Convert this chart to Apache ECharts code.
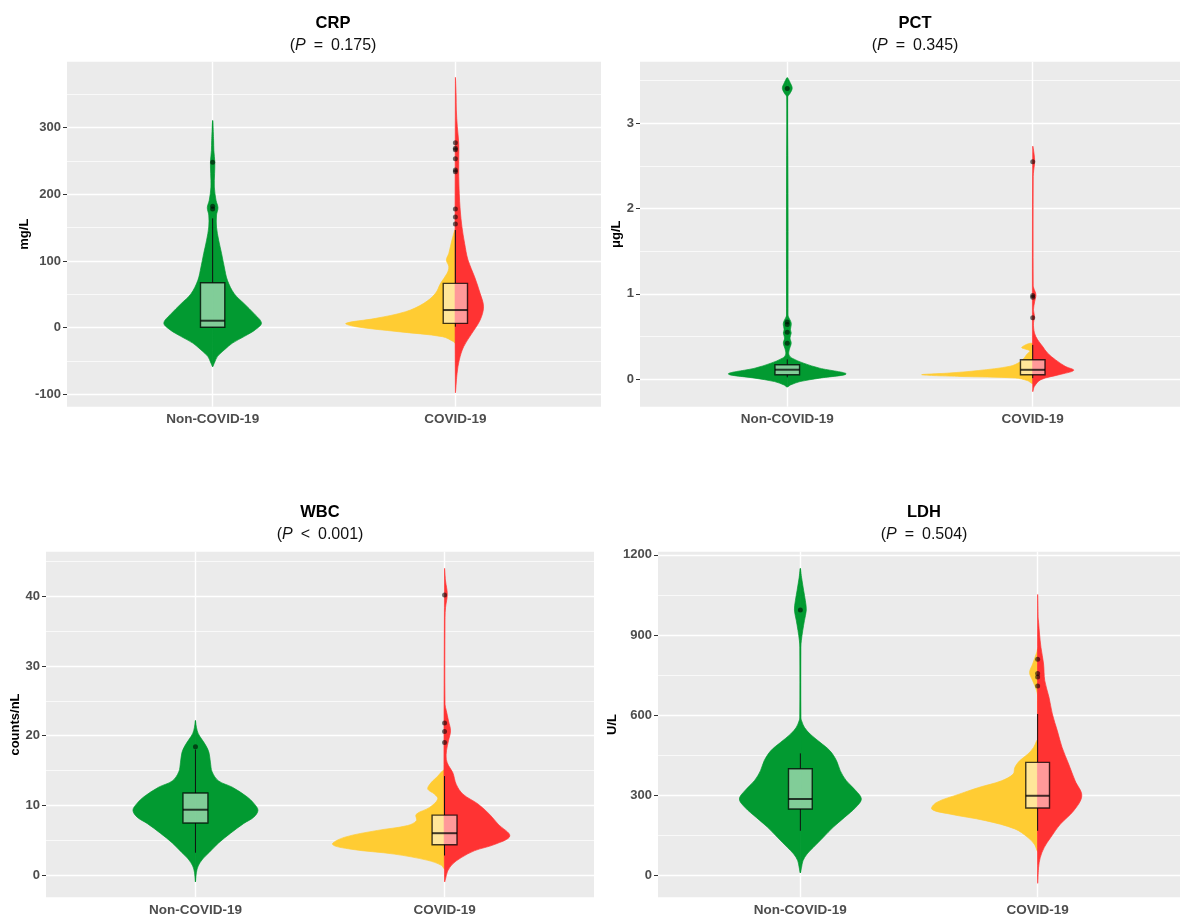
<!DOCTYPE html>
<html>
<head>
<meta charset="utf-8">
<script src="https://cdn.jsdelivr.net/npm/echarts@6/dist/echarts.min.js"></script>
<style>
    html, body { margin: 0; background: #fff; }
    #main { width: 1180px; height: 918px; }
</style>
</head>
<body>
<div id="main"></div>
<script>
var groups = ['Non-COVID-19', 'COVID-19'];

// violin outlines: [value, half width in category units]
var crpNon = [[309,0],[281,.004],[266,.005],[248,.009],[231,.008],[211,.007],[191,.014],[180,.022],[169,.016],[151,.016],[131,.025],[111,.037],[91,.048],[71,.061],[51,.089],[36,.13],[21,.171],[7,.201],[-3,.176],[-13,.131],[-23,.082],[-33,.049],[-43,.02],[-53,.007],[-58,0]];
var crpCovLeft = [[146.5,0],[131.5,.014],[111.5,.027],[101.5,.037],[91.5,.027],[81.5,.034],[66.5,.061],[51.5,.082],[36.5,.13],[24,.205],[14,.328],[6.5,.451],[1.5,.41],[-6,.234],[-13.5,.053],[-21,.007],[-23.5,0]];
var crpCovRight = [[374,0],[350,.003],[326.5,.004],[301.5,.008],[276.5,.014],[251.5,.014],[226.5,.014],[201.5,.016],[176.5,.02],[151.5,.027],[126.5,.038],[101.5,.052],[76.5,.079],[51.5,.102],[31.5,.116],[11.5,.102],[-8.5,.068],[-28.5,.034],[-48.5,.016],[-68.5,.007],[-96,0]];

var pctNon = [[3.53,0],[3.47,.013],[3.41,.02],[3.35,.011],[3.31,.002],[0.76,.002],[0.734,.004],[0.656,.016],[0.578,.013],[0.539,.016],[0.48,.011],[0.42,.016],[0.342,.008],[0.283,.007],[0.244,.02],[0.185,.067],[0.127,.132],[0.06,.24],[0.01,.132],[-0.03,.052],[-0.07,.013],[-0.09,0]];
var pctCovLeft = [[0.41,0],[0.37,.045],[0.33,.012],[0.29,.024],[0.25,.034],[0.2,.052],[0.15,.092],[0.1,.22],[0.07,.34],[0.05,.452],[0.03,.296],[0.012,.072],[-0.02,.02],[-0.05,0]];
var pctCovRight = [[2.727,0],[2.65,.005],[2.55,.008],[2.45,.004],[2.375,.002],[1.1,.002],[1.067,.004],[0.99,.013],[0.91,.008],[0.813,.003],[0.734,.007],[0.656,.003],[0.54,.007],[0.461,.02],[0.383,.04],[0.305,.06],[0.227,.092],[0.149,.132],[0.102,.167],[0.05,.107],[-0.008,.033],[-0.086,.007],[-0.145,0]];

var wbcNon = [[22.1,0],[21.2,.004],[20.3,.011],[19.4,.027],[18.5,.043],[17.6,.054],[16.2,.06],[14.8,.067],[13.5,.093],[12.6,.148],[11.2,.208],[10.3,.234],[9.3,.251],[8.3,.234],[7.4,.194],[6,.141],[4.6,.093],[3.2,.054],[2.3,.029],[1.3,.011],[0.4,.004],[-0.9,0]];
var wbcCovLeft = [[14.96,0],[13.98,.033],[13,.06],[12.3,.067],[11.6,.04],[10.9,.027],[9.7,.06],[8.7,.114],[7.8,.113],[7.1,.148],[6.4,.269],[5.4,.403],[4.4,.45],[3.7,.375],[3,.202],[2.1,.067],[1.4,.013],[0.9,0]];
var wbcCovRight = [[43.9,0],[42.2,.004],[40.3,.011],[38.4,.004],[37,.002],[24.5,.002],[23.6,.007],[22.1,.016],[20.7,.024],[19.3,.016],[17.9,.008],[16.6,.007],[15.7,.016],[14.7,.033],[13,.047],[11.6,.074],[10.2,.134],[8.7,.181],[7.3,.215],[5.6,.262],[4.4,.202],[3.5,.121],[2.5,.067],[1.6,.033],[0.6,.013],[-0.9,0]];

var ldhNon = [[1147,0],[1116,.005],[1066,.014],[1029,.021],[994,.025],[954,.017],[917,.01],[879,.004],[855,.002],[590,.002],[580,.005],[555,.017],[530,.041],[499,.083],[468,.124],[431,.152],[393,.168],[356,.193],[318,.234],[287,.257],[256,.234],[218,.186],[181,.138],[143,.096],[106,.055],[81,.028],[56,.011],[31,.005],[12,0]];
var ldhCovLeft = [[848,0],[835,.004],[792,.021],[760,.034],[729.5,.021],[692,.004],[667,0],[510,0],[505,.004],[480,.017],[455,.041],[430,.076],[405,.096],[380,.103],[355,.152],[330,.248],[305,.331],[274,.426],[249,.446],[231,.372],[206,.22],[175,.096],[143,.041],[118,.014],[93,0]];
var ldhCovRight = [[1047,0],[960,.0025],[948,.004],[904,.008],[854,.014],[792,.025],[729.5,.03],[667,.048],[605,.062],[542,.083],[480,.103],[417,.131],[355,.158],[299,.186],[243,.152],[193,.096],[143,.055],[106,.028],[68,.011],[31,.004],[-25,0]];

// box stats: [lower whisker, Q1, median, Q3, upper whisker]
var crpBox = [[0, 0.6, 10.5, 67.5, 164], [1.5, 6.5, 26.5, 66.5, 146.5]];
var pctBox = [[0.02, 0.05, 0.109, 0.168, 0.23], [0.01, 0.05, 0.108, 0.226, 0.4]];
var wbcBox = [[3.2, 7.46, 9.37, 11.76, 18.0], [2.8, 4.35, 6.0, 8.6, 14.2]];
var ldhBox = [[168, 249.5, 287, 400, 457.6], [168, 253, 299, 424, 605]];

// outliers
var crpOut = [[248, 178, 182], [277.5, 269, 267, 253.5, 236.5, 234, 178, 166, 155.5]];
var pctOut = [[3.41, 0.67, 0.64, 0.55, 0.42], [2.55, 0.98, 0.96, 0.72]];
var wbcOut = [[18.4], [40.2, 21.8, 20.6, 19.0]];
var ldhOut = [[994], [810, 756, 743, 710]];

// axis ticks
var crpTicks = [-100, 0, 100, 200, 300];
var pctTicks = [0, 1, 2, 3];
var wbcTicks = [0, 10, 20, 30, 40];
var ldhTicks = [0, 300, 600, 900, 1200];
var crpMinor = [-50, 50, 150, 250, 350];
var pctMinor = [0.5, 1.5, 2.5, 3.5];
var wbcMinor = [5, 15, 25, 35, 45];
var ldhMinor = [150, 450, 750, 1050];

var titles = ['CRP', 'PCT', 'WBC', 'LDH'];
var pvals = ['=\u20020.175', '=\u20020.345', '<\u20020.001', '=\u20020.504'];
var units = ['mg/L', '\u03bcg/L', 'counts/nL', 'U/L'];

var GREEN = '#029a31', YELLOW = '#ffcc33', RED = '#ff3333';

var panels = [
    { left: 67, top: 61.7, width: 534, height: 345, min: -118.5, max: 399, gap: 33, tx: 333, ty: 12,
      non: crpNon, covL: crpCovLeft, covR: crpCovRight, box: crpBox, out: crpOut, ticks: crpTicks, minor: crpMinor },
    { left: 640, top: 61.7, width: 550, height: 345, min: -0.325, max: 3.723, gap: 13, tx: 915, ty: 12,
      non: pctNon, covL: pctCovLeft, covR: pctCovRight, box: pctBox, out: pctOut, ticks: pctTicks, minor: pctMinor },
    { left: 46, top: 551.7, width: 548, height: 345.6, min: -3.2, max: 46.4, gap: 23, tx: 320, ty: 501.5,
      non: wbcNon, covL: wbcCovLeft, covR: wbcCovRight, box: wbcBox, out: wbcOut, ticks: wbcTicks, minor: wbcMinor },
    { left: 658, top: 551.7, width: 532, height: 345.6, min: -80.8, max: 1212, gap: 31, tx: 924, ty: 501.5,
      non: ldhNon, covL: ldhCovLeft, covR: ldhCovRight, box: ldhBox, out: ldhOut, ticks: ldhTicks, minor: ldhMinor }
];

// one smoothed outline per side, closed along the centre line
function violinItem(shape, cx, side, color) {
    return function (params, api) {
        var parts = [];
        var sides = side === 0 ? [1, -1] : [side];
        sides.forEach(function (s) {
            var pts = shape.map(function (d) { return api.coord([cx + s * d[1], d[0]]); });
            parts.push({
                type: 'polygon',
                shape: { points: pts, smooth: 0.35 },
                style: { fill: color, stroke: color, lineWidth: 0.7 }
            });
        });
        return { type: 'group', children: parts };
    };
}

function boxItem(params, api) {
    var x = api.value(0), hw = 0.05;
    var lo = api.coord([x, api.value(1)]);
    var q1 = api.coord([x, api.value(2)]);
    var md = api.coord([x, api.value(3)]);
    var q3 = api.coord([x, api.value(4)]);
    var hi = api.coord([x, api.value(5)]);
    var l = api.coord([x - hw, 0])[0], r = api.coord([x + hw, 0])[0];
    var stroke = 'rgba(0,0,0,0.75)';
    return {
        type: 'group',
        children: [
            { type: 'line', shape: { x1: lo[0], y1: lo[1], x2: q1[0], y2: q1[1] }, style: { stroke: '#111', lineWidth: 1 } },
            { type: 'line', shape: { x1: q3[0], y1: q3[1], x2: hi[0], y2: hi[1] }, style: { stroke: '#111', lineWidth: 1 } },
            { type: 'rect', shape: { x: l, y: q3[1], width: r - l, height: q1[1] - q3[1] },
              style: { fill: 'rgba(255,255,255,0.5)', stroke: stroke, lineWidth: 1.4 } },
            { type: 'line', shape: { x1: l, y1: md[1], x2: r, y2: md[1] }, style: { stroke: stroke, lineWidth: 2 } }
        ]
    };
}

var option = {
    animation: false,
    backgroundColor: '#ffffff',
    textStyle: { fontFamily: 'Liberation Sans, Arial, sans-serif' },
    title: [],
    grid: [],
    xAxis: [],
    yAxis: [],
    series: []
};

panels.forEach(function (p, i) {
    option.title.push({
        left: p.tx, top: p.ty, textAlign: 'center', padding: 0,
        text: '{t|' + titles[i] + '}\n{n|(}{i|P}{n|\u2002' + pvals[i] + ')}',
        textStyle: {
            rich: {
                t: { fontSize: 16.5, fontWeight: 'bold', color: '#000', lineHeight: 22, fontFamily: 'Liberation Sans' },
                n: { fontSize: 16, fontWeight: 'normal', color: '#111', lineHeight: 23, fontFamily: 'Liberation Sans' },
                i: { fontSize: 16, fontWeight: 'normal', fontStyle: 'italic', color: '#111', lineHeight: 23, fontFamily: 'Liberation Sans' }
            }
        }
    });
    option.grid.push({
        left: p.left, top: p.top, width: p.width, height: p.height,
        show: true, backgroundColor: '#ebebeb', borderWidth: 0
    });
    option.xAxis.push({
        type: 'value', gridIndex: i, min: 0.4, max: 2.6,
        axisLine: { show: false },
        axisTick: { show: true, customValues: [1, 2], length: 4, lineStyle: { color: '#333', width: 1 } },
        axisLabel: {
            customValues: [1, 2], margin: 6, color: '#4d4d4d', fontWeight: 'bold', fontSize: 13.5,
            fontFamily: 'Liberation Sans',
            formatter: function (v) { return groups[Math.round(v) - 1]; }
        },
        splitLine: { show: false }
    });
    option.yAxis.push({
        type: 'value', gridIndex: i, min: p.min, max: p.max,
        name: units[i], nameLocation: 'middle', nameGap: p.gap, nameRotate: 90,
        nameTextStyle: { fontWeight: 'bold', fontSize: 13, color: '#000', fontFamily: 'Liberation Sans' },
        axisLine: { show: false },
        axisTick: { show: true, customValues: p.ticks, length: 4, lineStyle: { color: '#333', width: 1 } },
        axisLabel: {
            customValues: p.ticks, margin: 6, color: '#4d4d4d', fontWeight: 'bold', fontSize: 13,
            fontFamily: 'Liberation Sans',
            formatter: function (v) { return String(v); }
        },
        splitLine: { show: false }
    });

    // panel grid lines
    var lines = [];
    p.minor.forEach(function (v) { lines.push({ yAxis: v, lineStyle: { width: 0.7 } }); });
    p.ticks.forEach(function (v) { lines.push({ yAxis: v, lineStyle: { width: 1.4 } }); });
    [1, 2].forEach(function (v) { lines.push({ xAxis: v, lineStyle: { width: 1.4 } }); });
    option.series.push({
        type: 'scatter', xAxisIndex: i, yAxisIndex: i, z: 1, silent: true,
        symbolSize: 0, data: [[1, p.ticks[0]]],
        markLine: {
            z: 1, silent: true, symbol: ['none', 'none'], label: { show: false },
            lineStyle: { color: '#ffffff', type: 'solid' },
            data: lines
        }
    });

    var shapes = [[p.non, 1, 0, GREEN], [p.covL, 2, -1, YELLOW], [p.covR, 2, 1, RED]];
    shapes.forEach(function (s) {
        option.series.push({
            type: 'custom', xAxisIndex: i, yAxisIndex: i, z: 2, clip: true, silent: true,
            data: [[s[1], s[0][0][0]]],
            renderItem: violinItem(s[0], s[1], s[2], s[3])
        });
    });

    option.series.push({
        type: 'custom', xAxisIndex: i, yAxisIndex: i, z: 3, silent: true,
        data: p.box.map(function (b, k) { return [k + 1].concat(b); }),
        encode: { x: 0, y: [1, 2, 3, 4, 5] },
        renderItem: boxItem
    });

    var pts = [];
    p.out.forEach(function (arr, k) {
        arr.forEach(function (v) { pts.push([k + 1, v]); });
    });
    option.series.push({
        type: 'scatter', xAxisIndex: i, yAxisIndex: i, z: 4, silent: true,
        symbolSize: 5, data: pts,
        itemStyle: { color: 'rgba(0,0,0,0.7)' }
    });
});

var chart = echarts.init(document.getElementById('main'));
chart.setOption(option);
</script>
</body>
</html>
